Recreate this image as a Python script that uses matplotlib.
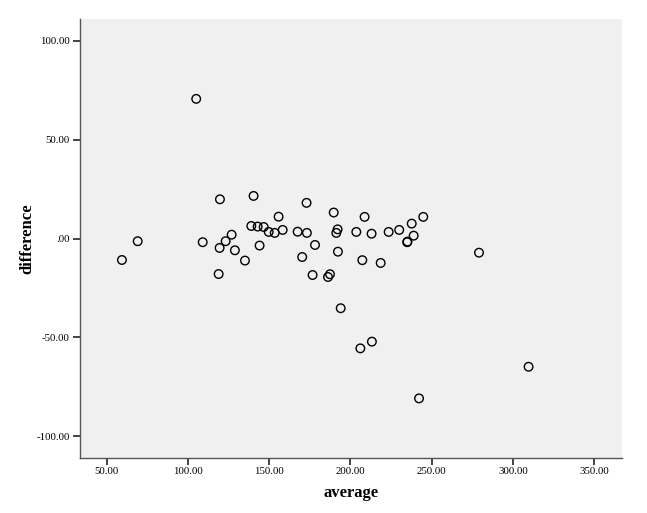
import matplotlib
matplotlib.use("Agg")
import matplotlib.pyplot as plt
from matplotlib.ticker import FuncFormatter

# values
average = [105.1, 119.7, 140.4, 155.8, 139.0, 142.9, 146.6, 149.7, 153.4,
           126.9, 69.1, 109.1, 123.2, 119.5, 128.9, 144.1, 59.4, 135.1, 118.9,
           158.3, 167.5, 173.0, 173.2, 178.2, 170.3, 176.7, 187.4, 186.2,
           189.7, 192.1, 191.3, 192.3, 194.0, 203.6, 208.7, 207.3, 206.1,
           213.2, 213.0, 218.6, 223.5, 230.0, 234.9, 235.1, 237.7, 238.9,
           244.8, 242.2, 279.1, 309.6]
difference = [70.7, 19.9, 21.6, 11.1, 6.4, 6.1, 5.9, 3.4, 2.9,
              2.0, -1.3, -1.8, -1.3, -4.7, -5.9, -3.5, -10.8, -11.1, -17.9,
              4.4, 3.5, 18.1, 2.9, -3.2, -9.3, -18.4, -18.0, -19.4,
              13.2, 4.7, 2.9, -6.6, -35.2, 3.4, 11.0, -10.9, -55.5,
              -52.1, 2.5, -12.3, 3.4, 4.4, -1.8, -1.5, 7.6, 1.5,
              11.0, -80.8, -7.1, -64.8]

xticks = [50, 100, 150, 200, 250, 300, 350]
yticks = [-100, -50, 0, 50, 100]


def spss_fmt(v, pos):
    s = "%.2f" % v
    if s.startswith("0."):
        s = s[1:]
    elif s.startswith("-0."):
        s = "-" + s[2:]
    return s


plt.rcParams["font.family"] = ["Liberation Serif", "DejaVu Serif"]

fig = plt.figure(figsize=(6.47, 5.13), dpi=100)
ax = fig.add_axes([0.1229, 0.1078, 0.838, 0.8552])
ax.set_facecolor("#f0f0f0")

ax.scatter(average, difference, s=38, facecolors="none", edgecolors="black",
           linewidths=1.0, zorder=3)

ax.set_xlim(33.3, 366.9)
ax.set_ylim(-110.8, 111.1)
ax.set_xticks(xticks)
ax.set_yticks(yticks)
ax.xaxis.set_major_formatter(FuncFormatter(spss_fmt))
ax.yaxis.set_major_formatter(FuncFormatter(spss_fmt))

for side in ["top", "right"]:
    ax.spines[side].set_visible(False)
for side in ["left", "bottom"]:
    ax.spines[side].set_color("#555555")
    ax.spines[side].set_linewidth(1.0)

ax.tick_params(direction="out", length=5, width=1.2, color="#222222",
               labelsize=7.8, pad=2)

ax.set_xlabel("average", fontsize=12, fontweight="bold", labelpad=6)
ax.set_ylabel("difference", fontsize=12, fontweight="bold", labelpad=1)

fig.savefig("out.png", dpi=100)
